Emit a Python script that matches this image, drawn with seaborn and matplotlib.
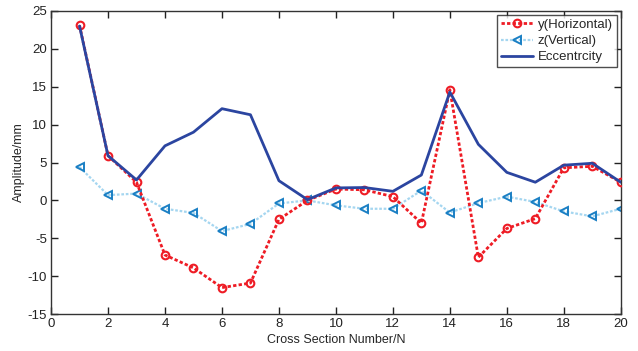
import numpy as np
import pandas as pd
import matplotlib
matplotlib.use("Agg")
import matplotlib.pyplot as plt
import seaborn as sns

sections = list(range(1, 21))
y_horizontal = [23.1, 5.9, 2.4, -7.2, -8.9, -11.5, -10.9, -2.5, 0.0, 1.5,
                1.4, 0.5, -3.0, 14.6, -7.5, -3.7, -2.4, 4.3, 4.5, 2.4]
z_vertical = [4.4, 0.7, 0.9, -1.1, -1.65, -4.05, -3.1, -0.4, 0.0, -0.65,
              -1.1, -1.1, 1.3, -1.6, -0.35, 0.5, -0.2, -1.45, -2.1, -1.1]
eccentricity = [23.0, 5.9, 2.7, 7.2, 9.0, 12.1, 11.3, 2.6, 0.1, 1.65,
                1.7, 1.2, 3.35, 14.3, 7.4, 3.7, 2.4, 4.65, 4.9, 2.4]
xticks = list(range(0, 21, 2))
yticks = list(range(-15, 26, 5))

sns.set_theme(style="white")
plt.rcParams['font.family'] = ['Liberation Sans', 'DejaVu Sans']
plt.rcParams['axes.unicode_minus'] = False

df = pd.DataFrame({"N": sections, "y": y_horizontal, "z": z_vertical, "e": eccentricity})

fig = plt.figure(figsize=(6.38, 3.51), dpi=100)
ax = fig.add_axes([0.080, 0.105, 0.893, 0.864])

sns.lineplot(data=df, x="N", y="y", ax=ax, color="#ee1c25", linestyle=(0, (1.2, 0.8)), linewidth=2.0,
             marker="o", markersize=5.5, markerfacecolor="none", markeredgecolor="#ee1c25",
             markeredgewidth=1.5, label="y(Horizontal)", zorder=3)
sns.lineplot(data=df, x="N", y="z", ax=ax, color="#a5d6f0", linestyle=(0, (1.2, 0.8)), linewidth=1.6,
             marker="<", markersize=5.5, markerfacecolor="none", markeredgecolor="#1a7fc4",
             markeredgewidth=1.4, label="z(Vertical)", zorder=2)
sns.lineplot(data=df, x="N", y="e", ax=ax, color="#2b45a0", linestyle="-", linewidth=2.0,
             label="Eccentrcity", zorder=4)

ax.set_xlim(0, 20)
ax.set_ylim(-15, 25)
ax.set_xticks(xticks)
ax.set_yticks(yticks)
ax.set_xlabel("Cross Section Number/N", fontsize=9, labelpad=3)
ax.set_ylabel("Amplitude/mm", fontsize=9, labelpad=2)
ax.tick_params(direction="in", length=5, width=1, labelsize=9.5, top=True, right=True,
               bottom=True, left=True, colors="#222222", pad=3)
for s in ax.spines.values():
    s.set_visible(True)
    s.set_color("#333333")
    s.set_linewidth(1)
ax.grid(False)

leg = ax.legend(loc="upper right", fontsize=9.5, frameon=True, fancybox=False,
                edgecolor="#222222", borderpad=0.3, labelspacing=0.3, handlelength=2.4,
                handletextpad=0.4, borderaxespad=0.3)
leg.get_frame().set_linewidth(1)

fig.savefig("out.png", dpi=100, facecolor="white")
